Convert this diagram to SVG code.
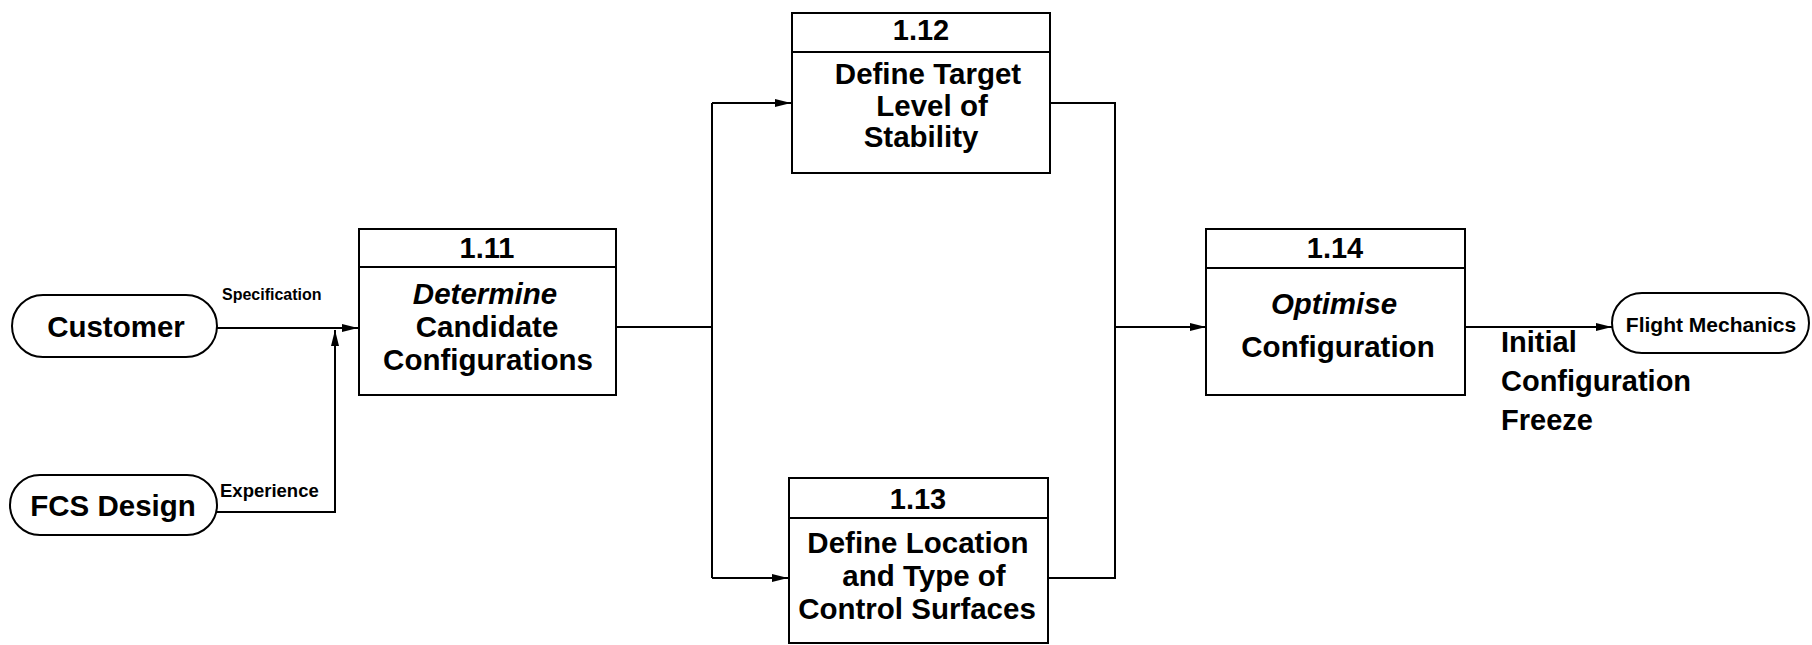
<svg xmlns="http://www.w3.org/2000/svg" width="1812" height="645" viewBox="0 0 1812 645">
  <style>
    .box { fill: #ffffff; stroke: #000000; stroke-width: 2; }
    .pill { fill: #ffffff; stroke: #000000; stroke-width: 2; }
    .div { stroke: #000000; stroke-width: 2; }
    .t { font-family: "Liberation Sans", Arial, Helvetica, sans-serif; font-weight: bold; fill: #000000; }
    .num { font-size: 29px; text-anchor: middle; }
    .lbl { font-size: 29.5px; text-anchor: middle; }
    .ext { font-size: 29.5px; text-anchor: middle; }
    .flow { font-size: 16px; }
    .out { font-size: 29px; }
    .wire { fill: none; stroke: #000000; stroke-width: 2; }
  </style>
  <defs>
    <marker id="arrow" viewBox="0 0 16 10" refX="16" refY="5" markerWidth="16" markerHeight="10" markerUnits="userSpaceOnUse" orient="auto">
      <path d="M0,1 L16,5 L0,9 Z" fill="#000000"/>
    </marker>
  </defs>

  <rect width="1812" height="645" fill="#ffffff"/>

  <!-- connectors -->
  <g id="connectors">
    <line class="wire" x1="217" y1="328" x2="358" y2="328" marker-end="url(#arrow)"/>
    <polyline class="wire" points="217,512 335,512 335,330" marker-end="url(#arrow)"/>
    <polyline class="wire" points="616,327 712,327"/>
    <line class="wire" x1="712" y1="103" x2="712" y2="578"/>
    <line class="wire" x1="712" y1="103" x2="791" y2="103" marker-end="url(#arrow)"/>
    <line class="wire" x1="712" y1="578" x2="788" y2="578" marker-end="url(#arrow)"/>
    <polyline class="wire" points="1050,103 1115,103 1115,578 1048,578"/>
    <line class="wire" x1="1115" y1="327" x2="1206" y2="327" marker-end="url(#arrow)"/>
    <line class="wire" x1="1465" y1="327" x2="1612" y2="327" marker-end="url(#arrow)"/>
    <text class="t flow" x="222" y="300">Specification</text>
    <text class="t flow" x="220" y="497" style="font-size:18.5px">Experience</text>
    <text class="t out" x="1501" y="352">Initial</text>
    <text class="t out" x="1501" y="391">Configuration</text>
    <text class="t out" x="1501" y="430">Freeze</text>
  </g>

  <!-- external entities -->
  <g id="customer">
    <rect class="pill" x="12" y="295" width="205" height="62" rx="31" ry="31"/>
    <text class="t ext" x="116" y="337">Customer</text>
  </g>
  <g id="fcs-design">
    <rect class="pill" x="10" y="475" width="207" height="60" rx="30" ry="30"/>
    <text class="t ext" x="113" y="516">FCS Design</text>
  </g>
  <g id="flight-mechanics">
    <rect class="pill" x="1612" y="293" width="197" height="60" rx="30" ry="30"/>
    <text class="t" x="1711" y="332" style="font-size:21px;text-anchor:middle">Flight Mechanics</text>
  </g>

  <!-- process 1.11 -->
  <g id="p111">
    <rect class="box" x="359" y="229" width="257" height="166"/>
    <line class="div" x1="359" y1="267" x2="616" y2="267"/>
    <text class="t num" x="487" y="258">1.11</text>
    <text class="t lbl" x="485" y="304" font-style="italic">Determine</text>
    <text class="t lbl" x="487" y="337">Candidate</text>
    <text class="t lbl" x="488" y="370">Configurations</text>
  </g>

  <!-- process 1.12 -->
  <g id="p112">
    <rect class="box" x="792" y="13" width="258" height="160"/>
    <line class="div" x1="792" y1="52" x2="1050" y2="52"/>
    <text class="t num" x="921" y="40">1.12</text>
    <text class="t lbl" x="928" y="84">Define Target</text>
    <text class="t lbl" x="932" y="116">Level of</text>
    <text class="t lbl" x="921" y="147">Stability</text>
  </g>

  <!-- process 1.13 -->
  <g id="p113">
    <rect class="box" x="789" y="478" width="259" height="165"/>
    <line class="div" x1="789" y1="518" x2="1048" y2="518"/>
    <text class="t num" x="918" y="509">1.13</text>
    <text class="t lbl" x="918" y="553">Define Location</text>
    <text class="t lbl" x="924" y="586">and Type of</text>
    <text class="t lbl" x="917" y="619">Control Surfaces</text>
  </g>

  <!-- process 1.14 -->
  <g id="p114">
    <rect class="box" x="1206" y="229" width="259" height="166"/>
    <line class="div" x1="1206" y1="268" x2="1465" y2="268"/>
    <text class="t num" x="1335" y="258">1.14</text>
    <text class="t lbl" x="1334" y="314" font-style="italic">Optimise</text>
    <text class="t lbl" x="1338" y="357">Configuration</text>
  </g>
</svg>
